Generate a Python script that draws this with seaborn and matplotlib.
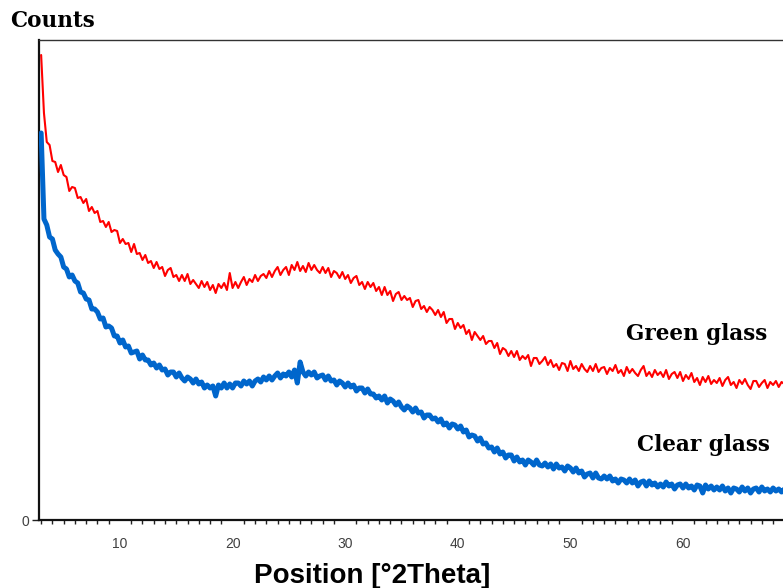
import numpy as np
import pandas as pd
import matplotlib
matplotlib.use("Agg")
import matplotlib.pyplot as plt
import seaborn as sns
from matplotlib.ticker import MultipleLocator, FixedLocator

# Scan positions (°2θ), step 0.25
two_theta = np.arange(3.0, 69.001, 0.25)

# Green glass counts
green_counts = [
    465, 407, 378, 375, 359, 358, 348, 355, 345, 343, 329, 333, 332, 322, 323, 317, 321, 309, 313, 307,
    309, 298, 299, 293, 298, 288, 290, 289, 277, 281, 276, 277, 268, 276, 266, 267, 260, 265, 257, 259,
    252, 258, 251, 253, 244, 250, 252, 243, 245, 239, 245, 239, 246, 236, 240, 236, 232, 239, 233, 238,
    230, 235, 227, 236, 232, 237, 230, 247, 232, 238, 232, 238, 243, 235, 241, 238, 245, 239, 244, 246,
    242, 249, 243, 249, 253, 245, 250, 253, 245, 255, 250, 258, 249, 254, 248, 257, 250, 255, 250, 247,
    253, 247, 252, 243, 249, 247, 242, 248, 241, 245, 237, 242, 244, 235, 238, 231, 238, 233, 237, 229,
    233, 225, 233, 225, 229, 219, 226, 228, 220, 224, 220, 222, 213, 219, 220, 211, 214, 208, 213, 210,
    205, 210, 203, 208, 197, 201, 201, 191, 197, 192, 195, 186, 190, 180, 188, 184, 180, 184, 176, 179,
    179, 172, 177, 166, 172, 170, 164, 169, 163, 169, 160, 164, 161, 165, 154, 162, 162, 156, 159, 163,
    155, 160, 153, 156, 150, 157, 156, 149, 159, 151, 154, 149, 156, 151, 148, 154, 149, 156, 148, 152,
    153, 146, 152, 149, 155, 147, 150, 144, 153, 147, 151, 147, 144, 150, 154, 144, 148, 143, 150, 145,
    148, 143, 150, 141, 146, 148, 142, 148, 139, 145, 141, 147, 138, 142, 135, 143, 138, 144, 136, 140,
    137, 142, 134, 140, 143, 135, 138, 132, 140, 136, 141, 135, 131, 139, 139, 133, 137, 140, 132, 138,
    135, 139, 133, 138, 136,
]

# Clear glass counts
clear_counts = [
    387, 301, 295, 283, 281, 270, 266, 263, 253, 251, 243, 245, 239, 237, 228, 227, 221, 220, 211, 211,
    208, 201, 202, 193, 194, 192, 184, 184, 177, 180, 173, 174, 167, 168, 169, 161, 165, 160, 160, 155,
    157, 152, 155, 150, 151, 145, 148, 148, 143, 147, 142, 139, 143, 141, 137, 141, 136, 138, 132, 135,
    132, 134, 124, 135, 132, 137, 132, 136, 132, 137, 137, 134, 139, 136, 139, 134, 139, 141, 138, 143,
    140, 144, 140, 144, 147, 142, 146, 144, 148, 143, 150, 137, 158, 148, 144, 148, 145, 148, 142, 144,
    145, 140, 144, 139, 140, 135, 139, 137, 133, 137, 133, 135, 129, 132, 132, 127, 131, 126, 126, 122,
    124, 120, 124, 117, 121, 119, 115, 118, 113, 110, 114, 112, 108, 112, 107, 108, 102, 105, 105, 101,
    102, 98, 101, 95, 97, 92, 96, 95, 91, 94, 88, 90, 83, 85, 84, 79, 82, 76, 77, 72,
    73, 68, 72, 66, 68, 62, 65, 65, 59, 63, 58, 60, 55, 60, 58, 55, 60, 55, 54, 57,
    53, 56, 51, 56, 52, 53, 49, 54, 52, 48, 52, 47, 49, 43, 46, 47, 42, 47, 42, 41,
    44, 41, 44, 39, 41, 37, 41, 40, 37, 41, 37, 40, 34, 38, 39, 34, 39, 35, 37, 33,
    36, 33, 38, 34, 36, 31, 35, 36, 32, 36, 32, 34, 30, 35, 34, 27, 35, 31, 34, 30,
    33, 30, 34, 29, 32, 27, 32, 31, 28, 33, 29, 32, 27, 31, 32, 28, 33, 29, 31, 28,
    32, 29, 31, 28, 31,
]

series_names = ["Green glass", "Clear glass"]
major_ticks = [10, 20, 30, 40, 50, 60]

df = pd.concat([
    pd.DataFrame({"pos": two_theta, "counts": green_counts, "sample": series_names[0]}),
    pd.DataFrame({"pos": two_theta, "counts": clear_counts, "sample": series_names[1]}),
])

sns.set_style("white")
plt.rcParams["font.family"] = ["Liberation Sans", "DejaVu Sans"]

W, H = 783, 588
fig = plt.figure(figsize=(W / 100, H / 100), dpi=100)
ax = fig.add_axes([39 / W, (H - 520) / H, (W - 39) / W, 480 / H])

sns.lineplot(data=df[df["sample"] == "Green glass"], x="pos", y="counts",
             color="#ff0000", lw=1.5, ax=ax, estimator=None, sort=False,
             legend=False, zorder=2)
sns.lineplot(data=df[df["sample"] == "Clear glass"], x="pos", y="counts",
             color="#0066cc", lw=3.6, ax=ax, estimator=None, sort=False,
             legend=False, zorder=3)

ax.set_xlim(2.81, 68.88)
ax.set_ylim(0, 480)

for side in ("left", "bottom"):
    ax.spines[side].set_color("#111111")
    ax.spines[side].set_linewidth(1.6)
ax.spines["top"].set_color("#333333")
ax.spines["top"].set_linewidth(1.0)
ax.spines["right"].set_visible(False)

ax.xaxis.set_major_locator(FixedLocator(major_ticks))
ax.xaxis.set_minor_locator(MultipleLocator(1))
ax.set_xticklabels([str(t) for t in major_ticks])
ax.set_yticks([0])
ax.set_yticklabels(["0"])
ax.tick_params(axis="x", which="major", direction="out", length=8, width=1.0,
               color="#222222", labelsize=10, labelcolor="#404040", pad=4)
ax.tick_params(axis="x", which="minor", direction="out", length=3, width=1.0,
               color="#222222", bottom=True)
ax.tick_params(axis="y", which="major", direction="out", length=5, width=1.0,
               color="#222222", labelsize=10, labelcolor="#404040", pad=2, left=True)
ax.set_xlabel("")
ax.set_ylabel("")

serif_bold = dict(family=["DejaVu Serif"], fontweight="bold", fontsize=15.5, color="black")
ax.text(61.2, 186, "Green glass", ha="center", va="center", **serif_bold)
ax.text(61.8, 75, "Clear glass", ha="center", va="center", **serif_bold)
fig.text(10 / W, 1 - 21 / H, "Counts", ha="left", va="center", **serif_bold)

fig.text(372 / W, 1 - 576 / H, "Position [°2Theta]", ha="center", va="center",
         fontsize=20, fontweight="bold", color="black")

fig.savefig("out.png", dpi=100)
